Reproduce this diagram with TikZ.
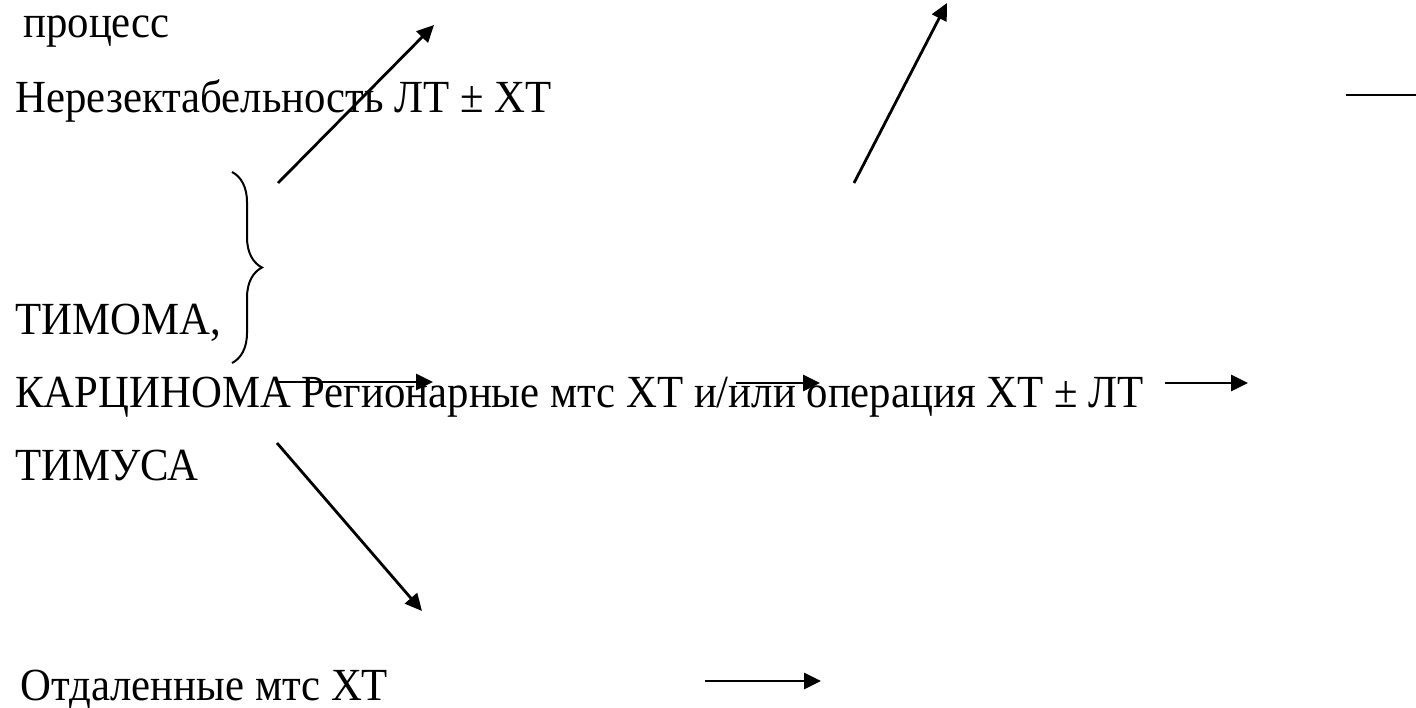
\documentclass[tikz,border=0pt]{standalone}
\usepackage{fontspec}
\setmainfont[FakeStretch=0.93]{Liberation Serif}
\usetikzlibrary{arrows.meta, decorations.pathreplacing}

\begin{document}
\begin{tikzpicture}[
    x=0.5pt, y=-0.5pt,
    lbl/.style={anchor=base west, inner sep=0pt, font=\fontsize{23}{28}\selectfont},
    arrow/.style={-{Triangle[length=8.5pt, width=8pt]}, line width=1.4pt},
    link/.style={line width=1.4pt},
    bracket/.style={decorate, decoration={brace, amplitude=15pt}, line width=1pt}
]
\useasboundingbox (0,0) rectangle (1416,707);

% texts
\node[lbl] (proc) at (23,37) {процесс};
\node[lbl] (unres) at (15,112) {Нерезектабельность ЛТ ± ХТ};
\node[lbl] (thym) at (15,334) {ТИМОМА,};
\node[lbl] (carc) at (15,407) {КАРЦИНОМА Регионарные мтс ХТ и/или операция ХТ ± ЛТ};
\node[lbl] (thymus) at (15,480) {ТИМУСА};
\node[lbl] (dist) at (20,700) {Отдаленные мтс ХТ};

% free ends
\coordinate (up1a) at (278,183);  \coordinate (up1b) at (434,25);
\coordinate (up2a) at (854,183);  \coordinate (up2b) at (947,3);
\coordinate (topa) at (1346,95);  \coordinate (topb) at (1416,95);
\coordinate (mid1a) at (277,382); \coordinate (mid1b) at (433,382);
\coordinate (mid2a) at (736,383); \coordinate (mid2b) at (820,383);
\coordinate (mid3a) at (1165,383); \coordinate (mid3b) at (1248,383);
\coordinate (dna) at (277,443);   \coordinate (dnb) at (422,611);
\coordinate (bota) at (705,681);  \coordinate (botb) at (821,681);
\coordinate (brt) at (232,172);   \coordinate (brb) at (232,363);

\draw[bracket] (brt) -- (brb);

\draw[arrow] (up1a) -- (up1b);
\draw[arrow] (up2a) -- (up2b);
\draw[link] (topa) -- (topb);
\draw[arrow] (mid1a) -- (mid1b);
\draw[arrow] (mid2a) -- (mid2b);
\draw[arrow] (mid3a) -- (mid3b);
\draw[arrow] (dna) -- (dnb);
\draw[arrow] (bota) -- (botb);
\end{tikzpicture}
\end{document}
